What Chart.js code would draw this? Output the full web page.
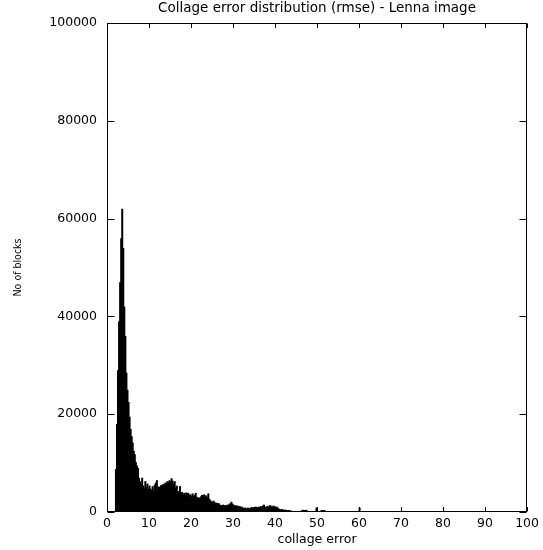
<!DOCTYPE html>
<html>
<head>
<meta charset="utf-8">
<script src="https://cdn.jsdelivr.net/npm/chart.js@4/dist/chart.umd.min.js"></script>
<style>
  html, body { margin: 0; padding: 0; background: #ffffff; }
  #c { display: block; }
</style>
</head>
<body>
<canvas id="c" width="543" height="550"></canvas>
<script>
// ---- chart text ----
const chartTitle = 'Collage error distribution (rmse) - Lenna image';
const xAxisLabel = 'collage error';
const yAxisLabel = 'No of blocks';

// ---- axes ----
const xTickValues = [0, 10, 20, 30, 40, 50, 60, 70, 80, 90, 100];
const yTickValues = [0, 20000, 40000, 60000, 80000, 100000];

// ---- histogram bins (collage error), bin width 0.25 starting at 2.0 ----
const binStart = 2.0;
const binWidth = 0.25;

// number of blocks per bin
const counts = [
  // 2.0 - 4.0
  8800, 18000, 29000, 39000, 47000, 56000, 62000, 54000,
  // 4.0 - 6.0
  42000, 36000, 28500, 25000, 22500, 19500, 17000, 15500,
  // 6.0 - 8.0
  14200, 12500, 11800, 10200, 9500, 9000, 7000, 6300,
  // 8.0 - 10.0
  5800, 7000, 5400, 5000, 6300, 5100, 5800, 4700,
  // 10.0 - 12.0
  5400, 4800, 4500, 5300, 4400, 5600, 6000, 6500,
  // 12.0 - 14.0
  4800, 5200, 5000, 5500, 5400, 5700, 5600, 6000,
  // 14.0 - 16.0
  5900, 6300, 6100, 6500, 6200, 6900, 6400, 5800,
  // 16.0 - 18.0
  6300, 5000, 5400, 4300, 4000, 5300, 3800, 4100,
  // 18.0 - 20.0
  3600, 3900, 3500, 4000, 3700, 3900, 3400, 3600,
  // 20.0 - 22.0
  3200, 3800, 3300, 3500, 3900, 3100, 2900, 3000,
  // 22.0 - 24.0
  2800, 3200, 3500, 3300, 3600, 3100, 3400, 3000,
  // 24.0 - 26.0
  3800, 2700, 2400, 2200, 2000, 2300, 2000, 1800,
  // 26.0 - 28.0
  1900, 1700, 1800, 1500, 1400, 1300, 1500, 1300,
  // 28.0 - 30.0
  1400, 1200, 1500, 1400, 1600, 1800, 2100, 1700,
  // 30.0 - 32.0
  1500, 1300, 1400, 1200, 1300, 1100, 1200, 1000,
  // 32.0 - 34.0
  1100, 900, 800, 900, 700, 800, 900, 700,
  // 34.0 - 36.0
  800, 1000, 900, 1000, 900, 1100, 1000, 900,
  // 36.0 - 38.0
  1100, 1000, 1200, 1000, 1300, 1500, 1100, 1000,
  // 38.0 - 40.0
  1200, 1100, 1300, 1400, 1200, 1100, 1300, 1200,
  // 40.0 - 42.0
  1000, 1100, 900, 700, 600, 500, 600, 500,
  // 42.0 - 44.0
  400, 500, 400, 350, 400, 300, 350, 250,
  // 44.0 - 46.0
  200, 150, 100, 100, 80, 60, 60, 80,
  // 46.0 - 48.0
  150, 350, 450, 400, 350, 450, 300, 150,
  // 48.0 - 50.0
  80, 60, 50, 40, 60, 80, 100, 900,
  // 50.0 - 52.0
  100, 80, 120, 250, 400, 350, 400, 300,
  // 52.0 - 54.0
  200, 100, 60, 40, 30, 20, 20, 10,
  // 54.0 - 56.0
  10, 10, 20, 10, 10, 10, 20, 10,
  // 56.0 - 58.0
  10, 10, 20, 200, 10, 10, 0, 10,
  // 58.0 - 60.0
  10, 0, 10, 10, 0, 10, 0, 10,
  // 60.0 - 60.25
  900
];

const points = counts.map((c, i) => ({ x: binStart + (i + 0.5) * binWidth, y: c }));

const tickFont = { family: "'DejaVu Sans', sans-serif", size: 12.5 };

// frame + inward (mirrored) tick marks, drawn through the chart's own scales
const frameTicks = {
  id: 'frameTicks',
  beforeDatasetsDraw(chart) {
    const { ctx, chartArea: a, scales } = chart;
    const xs = scales.x, ys = scales.y;
    const L = Math.round(a.left) + 0.5, R = Math.round(a.right) - 0.5;
    const T = Math.round(a.top) + 0.5, B = Math.round(a.bottom) - 0.5;
    ctx.save();
    ctx.strokeStyle = '#000';
    ctx.lineWidth = 1;
    ctx.beginPath();
    const xLen = 4.5, yLen = 7;
    xTickValues.forEach(v => {
      const px = Math.round(xs.getPixelForValue(v)) + 0.5;
      ctx.moveTo(px, B); ctx.lineTo(px, B - xLen);
      ctx.moveTo(px, T); ctx.lineTo(px, T + xLen);
    });
    yTickValues.forEach(v => {
      const py = Math.round(ys.getPixelForValue(v)) + 0.5;
      ctx.moveTo(L, py); ctx.lineTo(L + yLen, py);
      ctx.moveTo(R, py); ctx.lineTo(R - yLen, py);
    });
    ctx.stroke();
    ctx.strokeRect(L, T, R - L, B - T);
    ctx.restore();
  }
};

new Chart(document.getElementById('c'), {
  type: 'bar',
  data: {
    datasets: [{
      data: points,
      backgroundColor: '#000000',
      borderWidth: 0,
      barThickness: 2,
      inflateAmount: 0
    }]
  },
  options: {
    responsive: false,
    animation: false,
    devicePixelRatio: 1,
    layout: { padding: { top: 0, right: 13, bottom: 0, left: 0 } },
    plugins: {
      legend: { display: false },
      tooltip: { enabled: false },
      title: {
        display: true,
        text: chartTitle,
        color: '#000',
        fullSize: false,
        font: { family: "'DejaVu Sans', sans-serif", size: 13.5, weight: 'normal' },
        padding: { top: 0.4, bottom: 6.4 }
      }
    },
    scales: {
      x: {
        type: 'linear',
        offset: false,
        min: 0,
        max: 100,
        afterBuildTicks: s => { s.ticks = xTickValues.map(v => ({ value: v })); },
        afterFit: s => { s.height = 38; },
        grid: { display: false, drawTicks: false, offset: false },
        border: { display: false },
        ticks: { color: '#000', font: tickFont, padding: 4, maxRotation: 0, autoSkip: false },
        title: {
          display: true,
          text: xAxisLabel,
          color: '#000',
          font: tickFont,
          padding: { top: 0, bottom: 3 }
        }
      },
      y: {
        type: 'linear',
        min: 0,
        max: 100000,
        afterBuildTicks: s => { s.ticks = yTickValues.map(v => ({ value: v })); },
        afterFit: s => { s.width = 107; },
        grid: { display: false, drawTicks: false },
        border: { display: false },
        ticks: { color: '#000', font: tickFont, padding: 10, callback: v => String(v) },
        title: {
          display: true,
          text: yAxisLabel,
          color: '#000',
          font: { family: "'DejaVu Sans Condensed', 'Liberation Sans', sans-serif", size: 10.5 },
          padding: { top: 11.7, bottom: 0 }
        }
      }
    }
  },
  plugins: [frameTicks]
});
</script>
</body>
</html>
